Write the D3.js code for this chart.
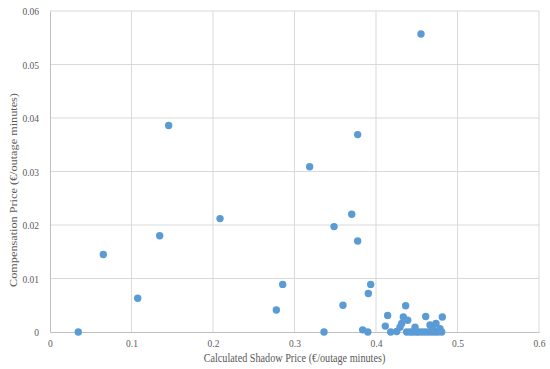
<!DOCTYPE html>
<html>
<head>
<meta charset="utf-8">
<script src="https://cdn.jsdelivr.net/npm/d3@7"></script>
<style>
  body { margin: 0; background: #fff; }
  svg text { font-family: "Liberation Serif", "Times New Roman", serif; fill: #595959; }
</style>
</head>
<body>
<div id="chart"></div>
<script>
// shadow price (x) vs compensation price (y)
var shadowPrice = [
  0.0347, 0.0654, 0.1076, 0.1346, 0.1456, 0.2086, 0.2777, 0.2855, 0.3186, 0.3362,
  0.3485, 0.3595, 0.3702, 0.3775, 0.4552, 0.3775, 0.3935, 0.3906, 0.3836, 0.3900,
  0.4143, 0.4114, 0.4364, 0.4335, 0.4389, 0.4610, 0.4814, 0.4180, 0.4254, 0.4294,
  0.4315, 0.4479, 0.4376, 0.4417, 0.4450, 0.4490, 0.4520, 0.4560, 0.4600, 0.4640,
  0.4680, 0.4720, 0.4760, 0.4806, 0.4663, 0.4736, 0.4695, 0.4785
];
var compPrice = [
  0.0000, 0.0145, 0.0063, 0.0180, 0.0386, 0.0212, 0.0041, 0.0089, 0.0309, 0.0000,
  0.0197, 0.0050, 0.0220, 0.0369, 0.0557, 0.0170, 0.0089, 0.0072, 0.0004, 0.0000,
  0.0031, 0.0011, 0.0049, 0.0028, 0.0022, 0.0029, 0.0028, 0.0000, 0.0001, 0.0009,
  0.0016, 0.0009, 0.0000, 0.0000, 0.0000, 0.0000, 0.0000, 0.0000, 0.0000, 0.0000,
  0.0000, 0.0000, 0.0000, 0.0000, 0.0013, 0.0016, 0.0006, 0.0006
];
var xTicks = [0, 0.1, 0.2, 0.3, 0.4, 0.5, 0.6];
var yTicks = [0, 0.01, 0.02, 0.03, 0.04, 0.05, 0.06];

var W = 550, H = 369;
var margin = {top: 11, right: 11, bottom: 37, left: 50};
var width = W - margin.left - margin.right,
    height = H - margin.top - margin.bottom;
var stretch = 1.2; // the source picture is a bit taller than it was drawn

var svg = d3.select("#chart").append("svg")
    .attr("width", W)
    .attr("height", H);

var g = svg.append("g")
    .attr("transform", "translate(" + margin.left + "," + margin.top + ")");

var x = d3.scaleLinear().domain([0, 0.6]).range([0, width]);
var y = d3.scaleLinear().domain([0, 0.06]).range([height, 0]);

// gridlines
g.append("g").selectAll("line")
    .data(xTicks.slice(1))
    .enter().append("line")
    .attr("x1", function(d) { return x(d); })
    .attr("x2", function(d) { return x(d); })
    .attr("y1", 0).attr("y2", height)
    .attr("stroke", "#d9d9d9").attr("stroke-width", 1);

g.append("g").selectAll("line")
    .data(yTicks.slice(1))
    .enter().append("line")
    .attr("y1", function(d) { return y(d); })
    .attr("y2", function(d) { return y(d); })
    .attr("x1", 0).attr("x2", width)
    .attr("stroke", "#d9d9d9").attr("stroke-width", 1);

// axes
var xAxis = g.append("g")
    .attr("transform", "translate(0," + height + ")")
    .call(d3.axisBottom(x).tickValues(xTicks).tickSize(0).tickPadding(6)
        .tickFormat(function(d) { return d === 0 ? "0" : d3.format(".1f")(d); }));
var yAxis = g.append("g")
    .call(d3.axisLeft(y).tickValues(yTicks).tickSize(0).tickPadding(11)
        .tickFormat(function(d) { return d === 0 ? "0" : d3.format(".2f")(d); }));

[xAxis, yAxis].forEach(function(a) {
  a.select(".domain").attr("stroke", "#bfbfbf").attr("stroke-width", 1);
  a.selectAll("text").style("font-size", "9.5px")
      .style("font-family", "'Liberation Serif', serif").attr("fill", "#595959")
      .attr("transform", "scale(1," + stretch + ")");
});

// points
g.append("g").selectAll("circle")
    .data(shadowPrice)
    .enter().append("circle")
    .attr("cx", function(d) { return x(d); })
    .attr("cy", function(d, i) { return y(compPrice[i]); })
    .attr("r", 3.7)
    .attr("fill", "#5b9bd5");

// axis titles
svg.append("text")
    .attr("transform", "translate(" + (margin.left + width / 2) + ",362) scale(1," + stretch + ")")
    .attr("text-anchor", "middle")
    .style("font-size", "10.2px")
    .text("Calculated Shadow Price (€/outage minutes)");

svg.append("text")
    .attr("transform", "translate(17,190) rotate(-90) scale(" + stretch + ",1)")
    .attr("text-anchor", "middle")
    .style("font-size", "10.2px")
    .text("Compensation Price (€/outage minutes)");
</script>
</body>
</html>
